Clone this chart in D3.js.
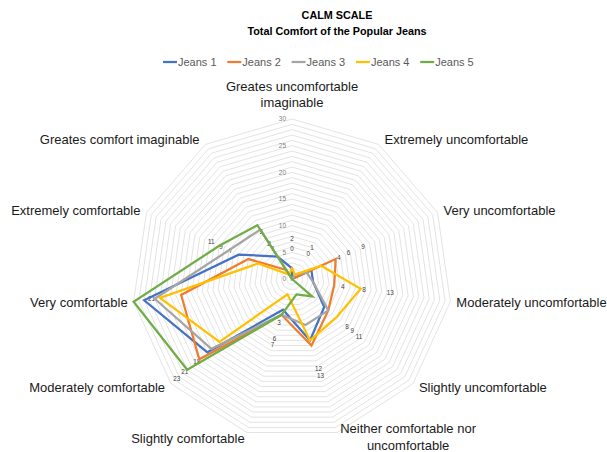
<!DOCTYPE html>
<html>
<head>
<meta charset="utf-8">
<script src="https://cdn.jsdelivr.net/npm/d3@7"></script>
<style>
  body { margin: 0; background: #fff; }
  text { font-family: "Liberation Sans", Arial, sans-serif; }
</style>
</head>
<body>
<svg id="chart"></svg>
<script>
// categories go clockwise from the top
const categories = [
  ['Greates uncomfortable', 'imaginable'],
  ['Extremely uncomfortable'],
  ['Very uncomfortable'],
  ['Moderately uncomfortable'],
  ['Slightly uncomfortable'],
  ['Neither comfortable nor', 'uncomfortable'],
  ['Slightly comfortable'],
  ['Moderately comfortable'],
  ['Very comfortable'],
  ['Extremely comfortable'],
  ['Greates comfort imaginable']
];

const seriesNames = ['Jeans 1', 'Jeans 2', 'Jeans 3', 'Jeans 4', 'Jeans 5'];
const jeans1 = [2, 0, 4, 4, 8, 12, 6, 21, 28, 11, 5];
const jeans2 = [0, 0, 9, 8, 9, 13, 7, 23, 21, 9, 2];
const jeans3 = [0, 1, 3, 4, 9, 9, 7, 20, 26, 13, 11];
const jeans4 = [2, 1, 6, 13, 11, 12, 3, 18, 25, 7, 1];
const jeans5 = [0, 0, 0, 0, 5, 3, 7, 26, 30, 15, 12];

// only these series carry data labels in the original
const labelledSeries = ['Jeans 1', 'Jeans 2', 'Jeans 4'];

const tickValues = [0, 5, 10, 15, 20, 25, 30];

class RadarChart {
  constructor(_config, _data) {
    this.config = {
      parentElement: _config.parentElement,
      containerWidth: _config.containerWidth || 607,
      containerHeight: _config.containerHeight || 452,
      cx: 292,
      cy: 279,
      radius: 160
    };
    this.data = _data;
    this.initVis();
  }

  initVis() {
    let vis = this;

    vis.svg = d3.select(vis.config.parentElement)
      .attr('width', vis.config.containerWidth)
      .attr('height', vis.config.containerHeight);

    vis.chart = vis.svg.append('g')
      .attr('transform', `translate(${vis.config.cx},${vis.config.cy})`);

    vis.rScale = d3.scaleLinear()
      .domain([0, 30])
      .range([0, vis.config.radius]);

    vis.n = categories.length;
    vis.angle = i => i * 2 * Math.PI / vis.n;

    vis.colors = d3.scaleOrdinal()
      .domain(seriesNames)
      .range(['#4472C4', '#ED7D31', '#A5A5A5', '#FFC000', '#70AD47']);

    vis.updateVis();
  }

  updateVis() {
    let vis = this;

    vis.line = d3.lineRadial()
      .angle((d, i) => vis.angle(i))
      .radius(d => vis.rScale(d))
      .curve(d3.curveLinearClosed);

    vis.renderVis();
  }

  renderVis() {
    let vis = this;

    // gridline rings, one per unit
    const rings = d3.range(1, 31);
    vis.chart.selectAll('.ring')
      .data(rings)
      .join('path')
      .attr('class', 'ring')
      .attr('fill', 'none')
      .attr('stroke', '#d9d9d9')
      .attr('stroke-width', 0.75)
      .attr('d', v => vis.line(categories.map(() => v)));

    // tick labels along the top axis
    vis.chart.selectAll('.tick-label')
      .data(tickValues)
      .join('text')
      .attr('class', 'tick-label')
      .attr('x', -6)
      .attr('y', d => -vis.rScale(d))
      .attr('dy', '0.35em')
      .attr('text-anchor', 'end')
      .attr('font-size', 6.5)
      .attr('fill', '#7f7f7f')
      .text(d => d);

    // data labels sit ~30px outside each point; identical ones on one axis drawn once
    const labelData = [];
    const seen = new Set();
    vis.data.filter(s => labelledSeries.includes(s.name)).forEach(s => {
      s.values.forEach((v, i) => {
        const rr = vis.rScale(v) + 30;
        const key = i + '-' + v;
        if (rr <= vis.config.radius && !seen.has(key)) {
          seen.add(key);
          labelData.push({ v, i, rr });
        }
      });
    });
    // nudge labels that are only one unit apart on the same axis
    d3.groups(labelData, d => d.i).forEach(([i, arr]) => {
      arr.sort((a, b) => a.rr - b.rr);
      for (let k = 1; k < arr.length; k++) {
        if (arr[k].rr - arr[k - 1].rr < 7) arr[k].rr = arr[k - 1].rr + 7;
      }
    });
    vis.chart.selectAll('.data-label')
      .data(labelData)
      .join('text')
      .attr('class', 'data-label')
      .attr('x', d => d.rr * Math.sin(vis.angle(d.i)))
      .attr('y', d => -d.rr * Math.cos(vis.angle(d.i)))
      .attr('dy', '0.35em')
      .attr('text-anchor', 'middle')
      .attr('font-size', 6.3)
      .attr('fill', '#404040')
      .text(d => d.v);

    // series lines
    vis.chart.selectAll('.series-line')
      .data(vis.data)
      .join('path')
      .attr('class', 'series-line')
      .attr('fill', 'none')
      .attr('stroke', d => vis.colors(d.name))
      .attr('stroke-width', 2.25)
      .attr('stroke-linejoin', 'miter')
      .attr('d', d => vis.line(d.values));

    // category labels
    const R = vis.config.radius;
    vis.chart.selectAll('.cat-label')
      .data(categories)
      .join('text')
      .attr('class', 'cat-label')
      .attr('font-size', 13)
      .attr('fill', '#1a1a1a')
      .each(function(lines, i) {
        const a = vis.angle(i);
        const vx = R * Math.sin(a), vy = -R * Math.cos(a);
        let x, y, anchor;
        if (i === 0) {
          x = vx; y = vy - 33; anchor = 'middle';
        } else if (i === 5) {
          x = vx + 71; y = vy - 4; anchor = 'middle';
        } else if (i === 6) {
          x = vx - 59; y = vy + 6; anchor = 'middle';
        } else if (i < 5) {
          x = vx + 6; y = vy - 6 * Math.cos(a); anchor = 'start';
        } else {
          x = vx - 6; y = vy - 6 * Math.cos(a); anchor = 'end';
        }
        d3.select(this)
          .attr('text-anchor', anchor)
          .selectAll('tspan')
          .data(lines)
          .join('tspan')
          .attr('x', x)
          .attr('y', (d, k) => y + k * 16.5)
          .attr('dy', '0.35em')
          .text(d => d);
      });

    // title
    vis.svg.append('text')
      .attr('x', 337)
      .attr('y', 15)
      .attr('dy', '0.35em')
      .attr('text-anchor', 'middle')
      .attr('font-size', 10.8)
      .attr('font-weight', 'bold')
      .attr('fill', '#000')
      .text('CALM SCALE');
    vis.svg.append('text')
      .attr('x', 337)
      .attr('y', 31)
      .attr('dy', '0.35em')
      .attr('text-anchor', 'middle')
      .attr('font-size', 10.8)
      .attr('font-weight', 'bold')
      .attr('fill', '#000')
      .text('Total Comfort of the Popular Jeans');

    // legend
    const legend = vis.svg.selectAll('.legend-item')
      .data(seriesNames)
      .join('g')
      .attr('class', 'legend-item')
      .attr('transform', (d, i) => `translate(${163 + i * 64.3},62)`);
    legend.append('line')
      .attr('x1', 0).attr('x2', 14)
      .attr('stroke', d => vis.colors(d))
      .attr('stroke-width', 2.25);
    legend.append('text')
      .attr('x', 15)
      .attr('dy', '0.35em')
      .attr('font-size', 11)
      .attr('fill', '#595959')
      .text(d => d);
  }
}

const seriesData = [jeans1, jeans2, jeans3, jeans4, jeans5]
  .map((values, i) => ({ name: seriesNames[i], values }));

new RadarChart({ parentElement: '#chart' }, seriesData);
</script>
</body>
</html>
